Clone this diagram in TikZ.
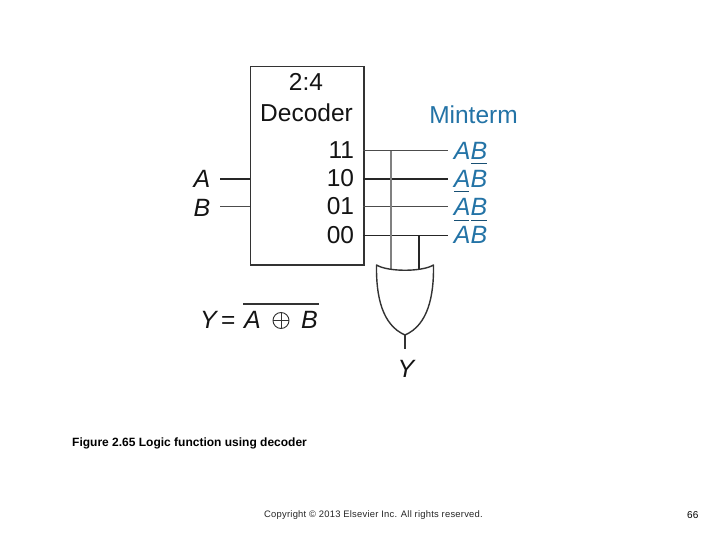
\documentclass[tikz,border=0pt]{standalone}
\usepackage{fontspec}
\setmainfont{Liberation Sans}
\definecolor{mint}{HTML}{2373A6}
\tikzset{
 big/.style={font=\fontsize{24.5}{26}\selectfont,text=black!92,inner sep=0,outer sep=0},
 ital/.style={big,font=\fontsize{25}{26}\selectfont\itshape},
 mtext/.style={ital,text=mint},
 thin wire/.style={draw=black!70,line width=1pt},
 thick wire/.style={draw=black!85,line width=1.6pt},
 gray wire/.style={draw=black!50,line width=1.5pt},
 mbar/.style={draw=mint!70!black,line width=1pt},
 shapeline/.style={draw=black!80,line width=1.4pt},
}
\begin{document}
\begin{tikzpicture}[x=1pt,y=-1pt]
\useasboundingbox[fill=white] (0,0) rectangle (720,540);
\node[draw=black!80,line width=1.5pt,minimum width=113.5pt,minimum height=198pt,inner sep=0,anchor=north west] (dec) at (249.5,66) {};
\node[big] (t1) at (306,82) {2:4};
\node[big] (t2) at (306.5,112.5) {Decoder};
\node[big,anchor=east] (o11) at (354,150) {11};
\node[big,anchor=east] (o10) at (354,178) {10};
\node[big,anchor=east] (o01) at (354,206) {01};
\node[big,anchor=east] (o00) at (354,235) {00};
\node[ital] (A) at (202,179) {A};
\node[ital] (B) at (202,208) {B};
\coordinate (Ae) at (249.5,179); \coordinate (As) at (220,179);
\coordinate (Be) at (249.5,207); \coordinate (Bs) at (220,207);
\draw[thick wire] (As) -- (Ae);
\draw[thin wire] (Bs) -- (Be);
\node[big,text=mint] (mt) at (473.5,115) {Minterm};
\node[mtext] (m1) at (470.5,151) {AB};
\node[mtext] (m2) at (470.5,179) {AB};
\node[mtext] (m3) at (470.5,207) {AB};
\node[mtext] (m4) at (470.5,235) {AB};
\draw[mbar] (471,164) -- (487,164);
\draw[mbar] (454,192) -- (469,192);
\draw[mbar] (454,220.5) -- (469,220.5) (471,220.5) -- (487,220.5);
\coordinate (d1) at (363,151); \coordinate (e1) at (448,151);
\coordinate (d2) at (363,179); \coordinate (e2) at (448,179);
\coordinate (d3) at (363,207); \coordinate (e3) at (448,207);
\coordinate (d4) at (363,235.5); \coordinate (e4) at (448,235.5);
\draw[thin wire] (d1) -- (e1);
\draw[thick wire] (d2) -- (e2);
\draw[thin wire] (d3) -- (e3);
\draw[thick wire] (d4) -- (e4);
\coordinate (g1t) at (391,151); \coordinate (g1b) at (391,270);
\coordinate (g2t) at (419,235.5); \coordinate (g2b) at (419,270);
\draw[gray wire] (g1t) -- (g1b);
\draw[thick wire] (g2t) -- (g2b);
\coordinate (gl) at (376.5,265); \coordinate (gr) at (433.5,265); \coordinate (gb) at (405,335);
\draw[shapeline,line join=round,fill=none] (gl) .. controls (388,272) and (422,272) .. (gr)
  .. controls (434,296) and (428,325) .. (gb)
  .. controls (382,325) and (376,296) .. (gl) -- cycle;
\coordinate (ys) at (405,349);
\draw[shapeline] (gb) -- (ys);
\node[ital] (Y) at (406,368.5) {Y};
\node[ital,anchor=base west] (f1) at (200,328) {Y};
\node[big,anchor=base west] (f2) at (221,328) {=};
\node[ital,anchor=base west] (f3) at (244,328) {A};
\node[ital,anchor=base west] (f4) at (301,328) {B};
\node[circle,draw=black!80,line width=0.9pt,minimum size=16pt,inner sep=0] (xo) at (281,320.5) {};
\draw[black!80,line width=0.9pt] (xo.north) -- (xo.south) (xo.west) -- (xo.east);
\draw[black!80,line width=1.3pt] (243,304) -- (319,304);
\node[anchor=base west,inner sep=0,font=\fontsize{12}{13}\selectfont\bfseries] (cap) at (72,446) {Figure 2.65 Logic function using decoder};
\node[anchor=base west,inner sep=0,font=\fontsize{9.4}{11}\selectfont\addfontfeature{LetterSpace=2.5},text=black!85] (copy) at (264,517) {Copyright © 2013 Elsevier Inc. All rights reserved.};
\node[anchor=base west,inner sep=0,font=\fontsize{10}{11}\selectfont] (num) at (687,518) {66};
\end{tikzpicture}
\end{document}
